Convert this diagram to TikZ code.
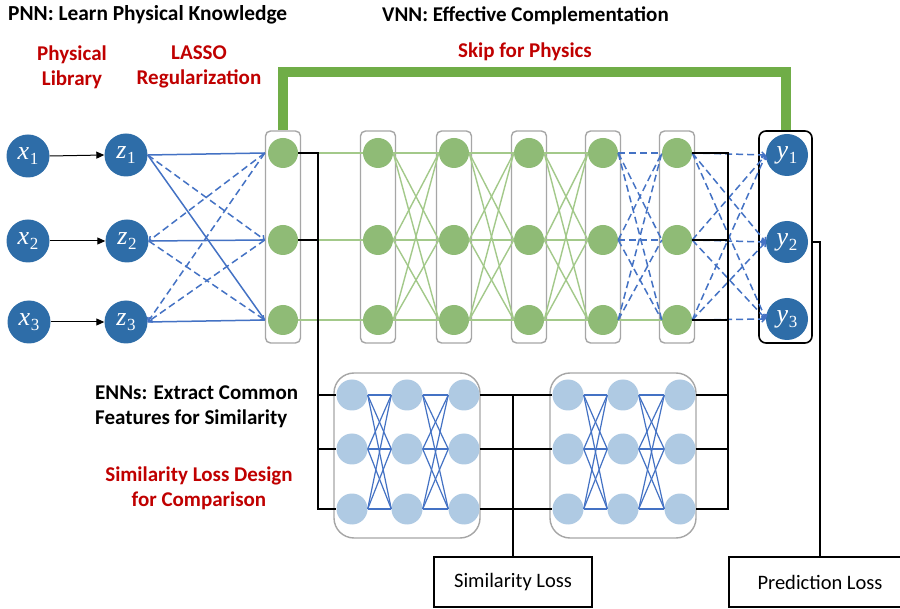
\documentclass[tikz,border=0pt]{standalone}
\usepackage{fontspec}
\setmainfont{Carlito}
\newfontfamily\labelserif{Liberation Serif}
\usetikzlibrary{arrows.meta}

\definecolor{nodeblue}{HTML}{2E6DA8}
\definecolor{nodegreen}{HTML}{8FBB76}
\definecolor{lightblue}{HTML}{AFCAE3}
\definecolor{linkblue}{HTML}{4472C4}
\definecolor{linkgreen}{HTML}{A3C98A}
\definecolor{skipgreen}{HTML}{70AD47}
\definecolor{boxgray}{HTML}{A6A6A6}
\definecolor{titlered}{HTML}{C00000}

% variable name with an upright subscript index
\newcommand{\iolabel}[2]{{\labelserif\fontsize{26}{28}\selectfont\itshape #1\kern0.5pt\raisebox{-5pt}{\upshape\fontsize{17}{17}\selectfont #2}}}

\tikzset{
  iocircle/.style={circle, fill=nodeblue, minimum size=43pt, inner sep=0pt,
    text=white},
  vnode/.style={circle, fill=nodegreen, minimum size=30pt, inner sep=0pt},
  enode/.style={circle, fill=lightblue, minimum size=31pt, inner sep=0pt},
  colbox/.style={draw=boxgray, line width=1.4pt, rounded corners=5pt,
    minimum width=35pt, minimum height=212pt, inner sep=0pt},
  ennbox/.style={draw=boxgray, line width=1.4pt, rounded corners=20pt,
    minimum width=146pt, minimum height=165pt, inner sep=0pt},
  ybox/.style={draw=black, line width=1.6pt, rounded corners=7pt,
    minimum width=53pt, minimum height=212pt, inner sep=0pt},
  lossbox/.style={draw=black, line width=1.3pt, minimum height=50pt,
    inner sep=0pt, font=\fontsize{20.5}{22}\selectfont},
  glink/.style={draw=linkgreen, line width=1.4pt},
  blink/.style={draw=linkblue, line width=1.5pt},
  bdash/.style={blink, dash pattern=on 7pt off 4pt},
  barbend/.style={-{Straight Barb[length=3pt,width=6pt]}},
  bus/.style={draw=black, line width=1.7pt},
  feed/.style={draw=black, line width=1pt, -{Triangle[length=8pt,width=7pt]}},
  skip/.style={draw=skipgreen, line width=10pt},
  headtext/.style={font=\bfseries\fontsize{21}{25}\selectfont, inner sep=0pt},
  redtext/.style={headtext, text=titlered, align=center},
}

\begin{document}
\begin{tikzpicture}[x=1pt, y=-1pt]
\clip (0,0) rectangle (900,609);
\fill[white] (0,0) rectangle (900,609);

% ---------- titles ----------
\node[headtext, anchor=west, font=\bfseries\fontsize{21.4}{25}\selectfont] (pnntitle) at (8,15) {PNN: Learn Physical Knowledge};
\node[headtext, anchor=west] (vnntitle) at (382,16) {VNN: Effective Complementation};
\node[redtext] (libtext) at (72,67) {Physical\\Library};
\node[redtext] (lassotext) at (199,67) {LASSO\\Regularization};
\node[redtext] (skiptext) at (525,52) {Skip for Physics};
\node[headtext, anchor=west, align=left] (enntext) at (95,407) {ENNs: Extract Common\\Features for Similarity};
\node[redtext] (simtext) at (199,488) {Similarity Loss Design\\for Comparison};

% ---------- column boxes ----------
\foreach \c/\x in {1/283,2/378,3/454,4/529,5/603,6/677}
  \node[colbox] (box\c) at (\x,237) {};
\node[ybox] (Ybox) at (785.5,237) {};
\node[ennbox] (enn1) at (407,455.5) {};
\node[ennbox] (enn2) at (623,455.5) {};

% ---------- skip connection ----------
\draw[skip] (box1.north) -- ++(0,-58) -| (Ybox.north);

% ---------- input and library nodes ----------
\node[iocircle] (x1) at (28,156) {\iolabel{x}{1}};
\node[iocircle] (x2) at (28,241) {\iolabel{x}{2}};
\node[iocircle] (x3) at (29,322) {\iolabel{x}{3}};
\node[iocircle] (z1) at (126,155) {\iolabel{z}{1}};
\node[iocircle] (z2) at (127,241) {\iolabel{z}{2}};
\node[iocircle] (z3) at (126,322) {\iolabel{z}{3}};

% ---------- output nodes ----------
\node[iocircle, minimum size=42pt] (y1) at (787,155) {\iolabel{y}{1}};
\node[iocircle, minimum size=42pt] (y2) at (787,242) {\iolabel{y}{2}};
\node[iocircle, minimum size=42pt] (y3) at (787,319) {\iolabel{y}{3}};

% ---------- hidden layers ----------
\foreach \c/\x in {1/283,2/378,3/454,4/529,5/603,6/677}
  \foreach \r/\y in {1/153,2/240,3/320}
    \node[vnode] (g\c-\r) at (\x,\y) {};

% ---------- embedding networks ----------
\foreach \c/\x in {1/352,2/407,3/464}
  \foreach \r/\y in {1/395,2/449,3/509}
    \node[enode] (ea\c-\r) at (\x,\y) {};
\foreach \c/\x in {1/568,2/623,3/680}
  \foreach \r/\y in {1/395,2/449,3/509}
    \node[enode] (eb\c-\r) at (\x,\y) {};

% ---------- loss boxes ----------
\node[lossbox, minimum width=158pt] (simloss) at (513,582) {Similarity Loss};
\node[lossbox, minimum width=182pt] (predloss) at (820,582) {Prediction Loss};

% ---------- x -> z ----------
\foreach \i in {1,2,3}
  \draw[feed] (x\i.east) -- (z\i.west);

% ---------- z -> first hidden layer ----------
\draw[blink] (z1.east) -- (box1.west |- g1-1);
\draw[blink] (z2.east) -- (box1.west |- g1-2);
\draw[blink] (z3.east) -- (box1.west |- g1-3);
\draw[blink] (z1.east) -- (box1.west |- g1-3);
\draw[bdash, barbend] (z1.east) -- (box1.west |- g1-2);
\draw[bdash, barbend] (z2.east) -- (box1.west |- g1-3);
\draw[bdash, barbend] (box1.west |- g1-1) -- (z2.east);
\draw[bdash, barbend] (box1.west |- g1-1) -- (z3.east);
\draw[bdash, barbend] (box1.west |- g1-2) -- (z3.east);

% ---------- hidden layer links ----------
\foreach \r in {1,2,3}
  \draw[glink] (g1-\r.east) -- (g2-\r.west);
\foreach \a/\b in {2/3,3/4,4/5}
  \foreach \r in {1,2,3}
    \foreach \s in {1,2,3}
      \draw[glink] (g\a-\r.east) -- (g\b-\s.west);
\draw[glink] (g5-3.east) -- (g6-3.west);
\foreach \r/\s in {1/1,1/2,1/3,2/1,2/2,2/3,3/1,3/2}
  \draw[bdash] (g5-\r.east) -- (g6-\s.west);
\foreach \r in {1,2,3}
  \foreach \s in {1,2,3}
    \draw[bdash, barbend] (g6-\r.east) -- (y\s.west);

% ---------- embedding network links ----------
\foreach \a/\b in {1/2,2/3}
  \foreach \r in {1,2,3}
    \foreach \s in {1,2,3} {
      \draw[blink, line width=1.2pt] (ea\a-\r.east) -- (ea\b-\s.west);
      \draw[blink, line width=1.2pt] (eb\a-\r.east) -- (eb\b-\s.west);
    }

% ---------- feature taps (black buses) ----------
\coordinate (tapL) at (318,153);
\coordinate (tapM) at (513,395);
\coordinate (tapR) at (728,153);
\coordinate (tapP) at (820,242);

\draw[bus] (g1-1.east) -- (tapL) -- (tapL |- ea1-3) -- (ea1-3.west);
\draw[bus] (g1-2.east) -- (tapL |- g1-2);
\draw[bus] (tapL |- ea1-1) -- (ea1-1.west);
\draw[bus] (tapL |- ea1-2) -- (ea1-2.west);

\foreach \r in {1,2,3}
  \draw[bus] (ea3-\r.east) -- (eb1-\r.west);
\draw[bus] (tapM) -- (simloss.north);

\draw[bus] (g6-1.east) -- (tapR) -- (tapR |- eb3-3) -- (eb3-3.east);
\draw[bus] (g6-2.east) -- (tapR |- g6-2);
\draw[bus] (g6-3.east) -- (tapR |- g6-3);
\draw[bus] (eb3-1.east) -- (tapR |- eb3-1);
\draw[bus] (eb3-2.east) -- (tapR |- eb3-2);

\draw[bus, line width=1.3pt] (Ybox.east |- tapP) -- (tapP) -- (predloss.north -| tapP);
\end{tikzpicture}
\end{document}
